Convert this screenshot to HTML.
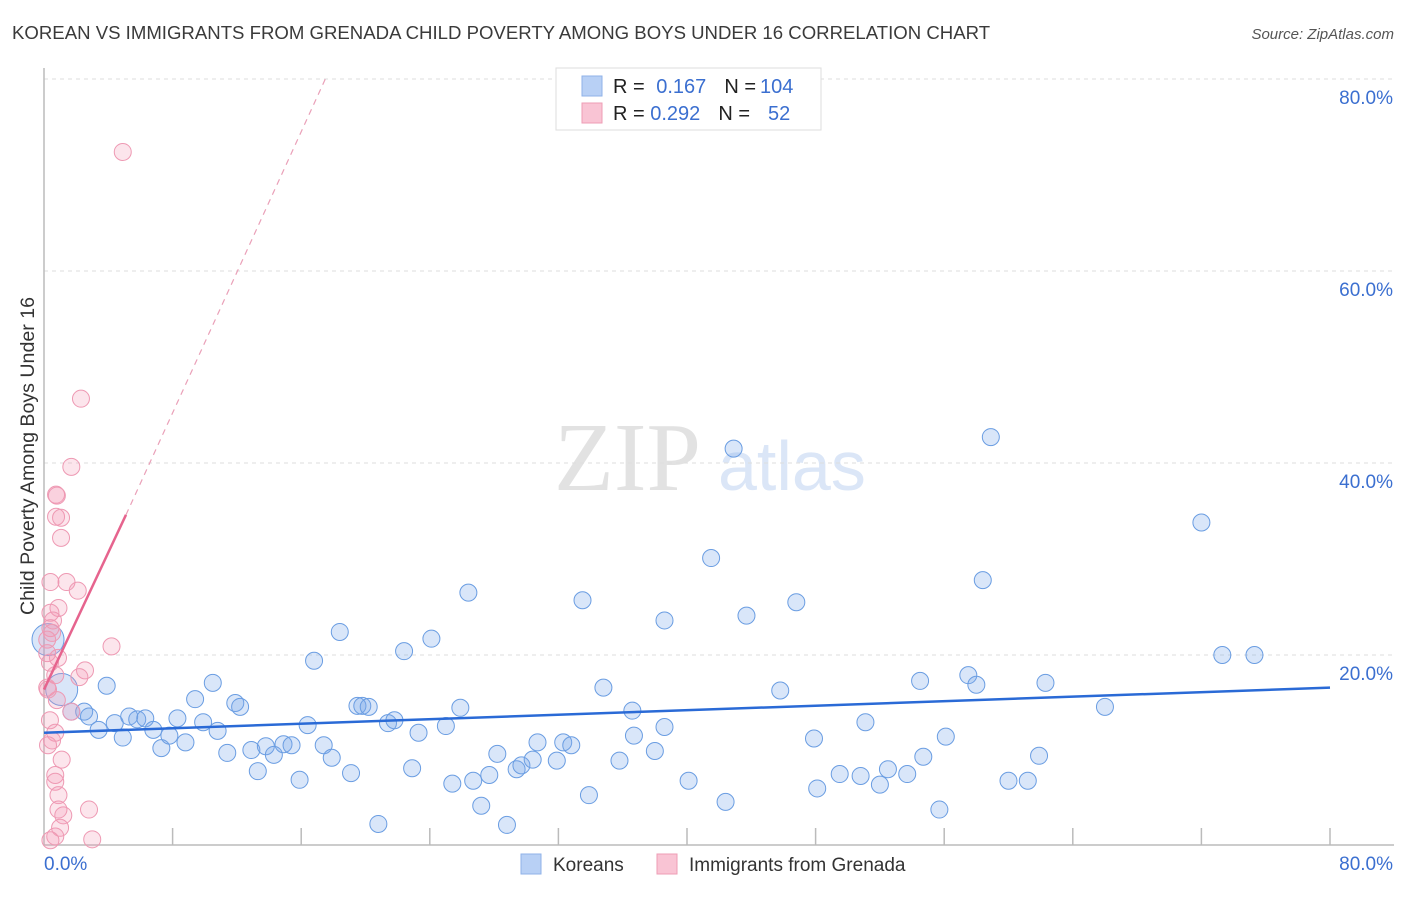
<!DOCTYPE html>
<html><head><meta charset="utf-8"><style>
body{margin:0;background:#fff;font-family:"Liberation Sans",sans-serif}
#wrap{position:relative;width:1406px;height:892px}
</style></head><body>
<div id="wrap">
<svg id="svg" width="1406" height="892" xmlns="http://www.w3.org/2000/svg">
<text x="12" y="39" font-size="18.6" fill="#3a3a3a" font-family="Liberation Sans">KOREAN VS IMMIGRANTS FROM GRENADA CHILD POVERTY AMONG BOYS UNDER 16 CORRELATION CHART</text>
<text x="1394" y="39" font-size="15" fill="#555" font-style="italic" text-anchor="end">Source: ZipAtlas.com</text>
<text x="554" y="490" font-size="98" fill="#e2e2e2" font-family="Liberation Serif">ZIP</text>
<text x="718" y="490" font-size="70" fill="#dbe6f7">atlas</text>
<text transform="translate(34,456) rotate(-90)" font-size="19.6" fill="#333" text-anchor="middle">Child Poverty Among Boys Under 16</text>
<g id="grid"></g><g id="pts"></g><g id="lines"></g>
<g>
<rect x="556" y="68" width="265" height="62" fill="#fff" stroke="#ddd"/>
<rect x="582" y="76" width="20" height="20" fill="#b8d0f5" stroke="#8fb2e8"/>
<rect x="582" y="103" width="20" height="20" fill="#f9c4d4" stroke="#ee9db5"/>
<text x="613" y="93" font-size="20" fill="#222">R = <tspan fill="#3b6fd0" dx="6">0.167</tspan><tspan dx="18" fill="#222">N =</tspan><tspan fill="#3b6fd0" dx="4">104</tspan></text>
<text x="613" y="120" font-size="20" fill="#222">R = <tspan fill="#3b6fd0">0.292</tspan><tspan dx="18" fill="#222">N =</tspan><tspan fill="#3b6fd0" dx="18">52</tspan></text>
</g>
<g>
<rect x="521" y="854" width="20" height="20" fill="#b8d0f5" stroke="#8fb2e8"/>
<text x="553" y="871" font-size="19" fill="#333">Koreans</text>
<rect x="657" y="854" width="20" height="20" fill="#f9c4d4" stroke="#ee9db5"/>
<text x="689" y="871" font-size="19" fill="#333">Immigrants from Grenada</text>
</g>
</svg></div>
<script>
const yTicks=[20,40,60,80];
const yTickLabels=["20.0%","40.0%","60.0%","80.0%"];
const xTicks=[8,16,24,32,40,48,56,64,72,80];
const xTickLabels=["0.0%","80.0%"];
const koreanX=[1.1,0.25,1.7,2.5,2.8,3.4,3.9,4.4,4.9,5.3,5.8,6.3,6.8,7.3,7.8,8.3,8.8,9.4,9.9,10.5,10.8,11.4,11.9,12.2,12.9,13.3,13.8,14.3,14.9,15.4,15.9,16.4,16.8,17.4,17.9,18.4,19.1,19.5,19.8,20.2,20.8,21.4,21.8,22.4,22.9,23.3,24.1,25.0,25.4,25.9,26.4,26.7,27.2,27.7,28.2,28.8,29.4,29.7,30.4,30.7,31.9,32.3,32.8,33.5,33.9,34.8,35.8,36.6,36.7,38.0,38.6,38.6,40.1,41.5,42.4,42.9,43.7,45.8,46.8,47.9,48.1,49.5,50.8,51.1,52.0,52.5,53.7,54.5,54.7,55.7,56.1,57.5,58.0,58.4,58.9,60.0,61.2,61.9,62.3,66.0,72.0,73.3,75.3];
const koreanY=[16.4,21.6,14.1,14.1,13.6,12.2,16.8,12.9,11.4,13.6,13.3,13.4,12.2,10.3,11.6,13.4,10.9,15.4,13.0,17.1,12.1,9.8,15.0,14.6,10.1,7.9,10.5,9.6,10.7,10.6,7.0,12.7,19.4,10.6,9.3,22.4,7.7,14.7,14.7,14.6,2.4,12.9,13.2,20.4,8.2,11.9,21.7,12.6,6.6,14.5,26.5,6.9,4.3,7.5,9.7,2.3,8.1,8.5,9.1,10.9,9.0,10.9,10.6,25.7,5.4,16.6,9.0,14.2,11.6,10.0,23.6,12.5,6.9,30.1,4.7,41.5,24.1,16.3,25.5,11.3,6.1,7.6,7.4,13.0,6.5,8.1,7.6,17.3,9.4,3.9,11.5,17.9,16.9,27.8,42.7,6.9,6.9,9.5,17.1,14.6,33.8,20.0,20.0];
const grenadaX=[4.9,2.3,1.7,0.75,0.8,0.75,1.06,1.06,0.4,1.4,2.1,0.9,0.4,0.56,0.4,0.5,0.2,4.2,0.2,0.87,0.37,2.55,2.2,0.7,0.25,0.8,1.7,0.37,0.7,0.5,0.25,1.1,0.7,0.7,0.9,2.8,0.9,1.2,1.0,0.7,3.0,0.4,0.2];
const grenadaY=[72.4,46.7,39.6,36.7,36.6,34.4,34.3,32.2,27.6,27.6,26.7,24.9,24.4,23.6,22.8,22.3,21.6,20.9,20.2,19.7,19.2,18.4,17.7,17.9,16.4,15.3,14.1,13.2,11.9,11.1,10.6,9.1,7.5,6.8,5.4,3.9,3.9,3.3,2.0,1.1,0.8,0.7,16.6];
const koreanLine=[[0,11.9],[80,16.6]];
const grenadaSolid=[[0,16.4],[5.1,34.6]];
const grenadaDash=[[5.1,34.6],[17.5,80]];
const X0=44,X1=1330,Y0=847,PPY=9.6;
const xs=v=>X0+(X1-X0)*v/80, ys=v=>Y0-v*PPY;
const NS="http://www.w3.org/2000/svg";
function mk(t,a,p){const e=document.createElementNS(NS,t);for(const k in a)e.setAttribute(k,a[k]);p.appendChild(e);return e;}
const grid=document.getElementById('grid'),pts=document.getElementById('pts'),lines=document.getElementById('lines');
yTicks.forEach((t,i)=>{
 const l=mk('line',{x1:44,x2:1394,y1:ys(t),y2:ys(t),stroke:'#ddd','stroke-dasharray':'4,4'},grid);
 
 
 const tx=mk('text',{x:1393,y:ys(t)+25,'font-size':19,fill:'#3b6fd0','text-anchor':'end'},grid);
 tx.textContent=yTickLabels[i];
 
 
});
const ax=mk('path',{d:'M44 68 V845 H1394',fill:'none',stroke:'#bbb','stroke-width':1.5},grid);


xTicks.forEach(t=>{
 const l=mk('line',{x1:xs(t),x2:xs(t),y1:828,y2:845,stroke:'#bbb','stroke-width':1.5},grid);
 
 
});
[[xTickLabels[0],44,'start'],[xTickLabels[1],1393,'end']].forEach(a=>{
 const tx=mk('text',{x:a[1],y:870,'font-size':19,fill:'#3b6fd0','text-anchor':a[2]},grid);
 tx.textContent=a[0];
 
 
});
koreanX.forEach((x,i)=>{
 const r=i<2?16:8.5;
 const c=mk('circle',{cx:xs(x),cy:ys(koreanY[i]),r:r,fill:'rgba(120,165,235,0.28)',stroke:'#6a9de2','stroke-width':1},pts);
 
 
});
grenadaX.forEach((x,i)=>{
 const c=mk('circle',{cx:xs(x),cy:ys(grenadaY[i]),r:8.5,fill:'rgba(245,150,180,0.25)',stroke:'#ee99b3','stroke-width':1},pts);
 
 
});
function ln(p,st,w,da,name){const l=mk('line',{x1:xs(p[0][0]),y1:ys(p[0][1]),x2:xs(p[1][0]),y2:ys(p[1][1]),stroke:st,'stroke-width':w},lines);if(da)l.setAttribute('stroke-dasharray',da);
 
 }
ln(koreanLine,'#2a6ad6',2.5,null,'korean-trend-line');
ln(grenadaSolid,'#e6648e',2.5,null,'grenada-trend-line');
ln(grenadaDash,'#eaa0b8',1.2,'6,5','grenada-trend-extension');
</script>
</body></html>
